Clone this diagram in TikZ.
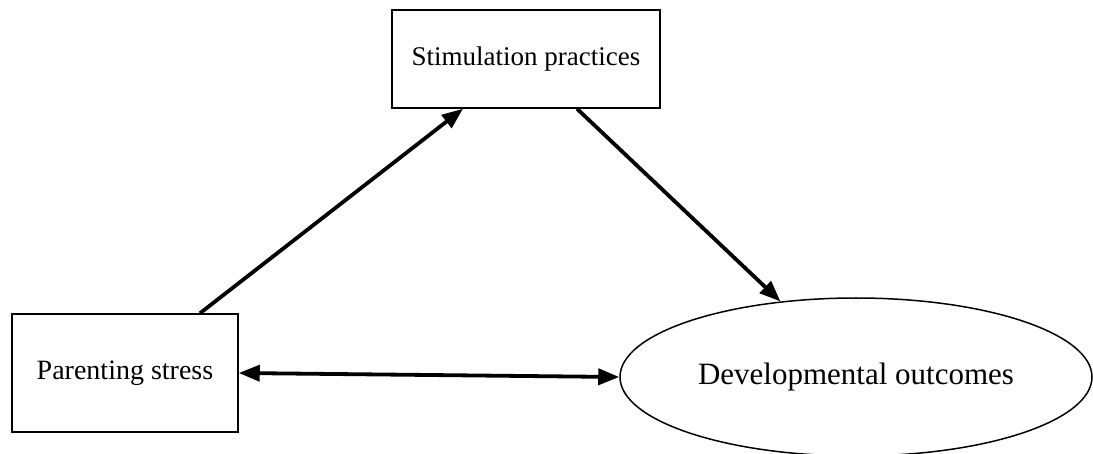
\documentclass[tikz,border=0pt]{standalone}
\usepackage{fontspec}
\setmainfont{Liberation Serif}
\usetikzlibrary{arrows.meta,shapes.geometric}
\begin{document}
\begin{tikzpicture}[x=1pt,y=-1pt,
  boxnode/.style={draw,line width=1.5pt,rectangle,inner sep=0pt},
  arr/.style={line width=3.8pt,-{Triangle[length=21pt,width=16pt]}},
  darr/.style={line width=3.8pt,{Triangle[length=21pt,width=16pt]}-{Triangle[length=21pt,width=16pt]}}]
\useasboundingbox (0,0) rectangle (1093,454);
\node[boxnode,minimum width=268pt,minimum height=98pt,font=\fontsize{27}{30}\selectfont] (stim) at (526,59) {Stimulation practices};
\node[boxnode,minimum width=226pt,minimum height=118pt,font=\fontsize{28}{31}\selectfont] (par) at (125,373) {Parenting stress};
\node[draw,line width=1.5pt,ellipse,inner sep=0pt,minimum width=472pt,minimum height=158pt,font=\fontsize{31}{34}\selectfont] (dev) at (856,377) {Developmental outcomes};
\draw[arr] ([xshift=75pt]par.north) -- ([xshift=-63pt]stim.south);
\draw[arr] ([xshift=51pt]stim.south) -- (dev.135);
\draw[darr] (par.east) -- (dev.west);
\end{tikzpicture}
\end{document}
